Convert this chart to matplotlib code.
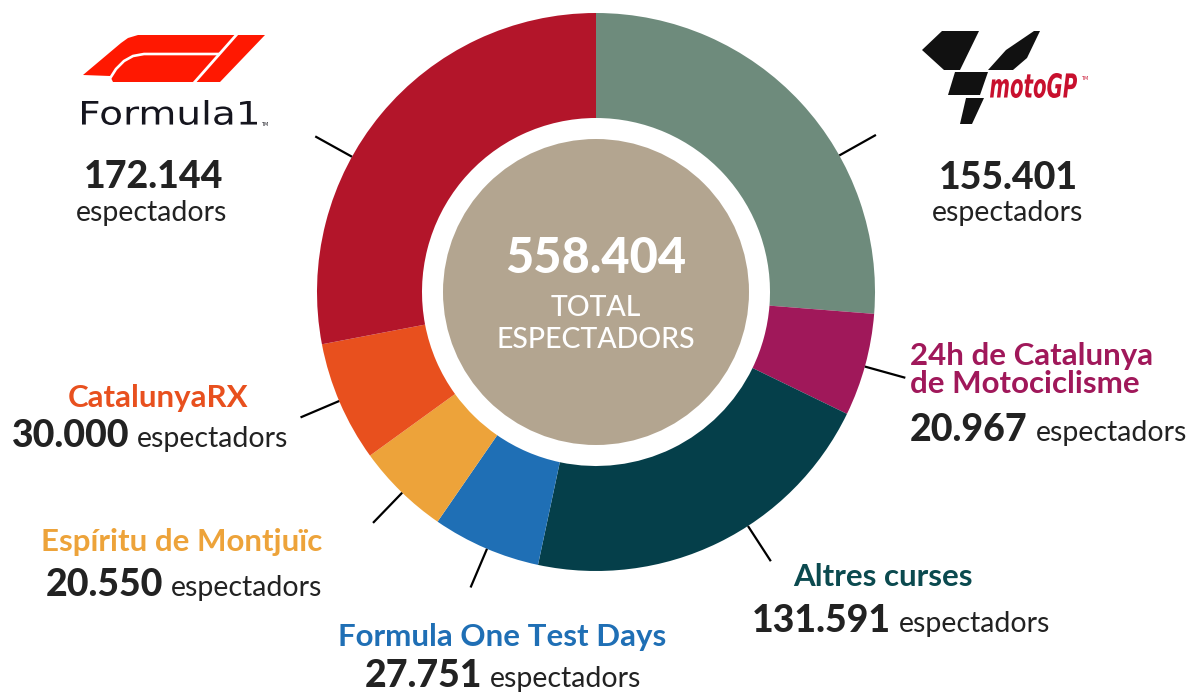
import matplotlib
matplotlib.use("Agg")
import matplotlib.pyplot as plt
import numpy as np
from matplotlib.patches import Polygon, Circle, PathPatch
from matplotlib.textpath import TextPath
from matplotlib.font_manager import FontProperties
from matplotlib.transforms import Affine2D

# ---------------- data ----------------
categories = ["MotoGP", "24h de Catalunya de Motociclisme", "Altres curses",
              "Formula One Test Days", "Espíritu de Montjuïc", "CatalunyaRX",
              "Formula 1"]
spectators = [155401, 20967, 131591, 27751, 20550, 30000, 172144]
# angular size of each ring segment as drawn in the picture (degrees)
drawn_share = [94.5, 21.4, 76.1, 22.6, 19.5, 25.1, 100.8]
colors = ["#6e8b7c", "#a0185a", "#053f4a", "#1f6fb5", "#eda33a", "#e8501e", "#b3152a"]
title_colors = ["#222222", "#a0185a", "#0b4a4f", "#1f6fb5", "#eda33a", "#e8501e", "#222222"]
unit_label = "espectadors"
center_lines = ["TOTAL", "ESPECTADORS"]
total = sum(spectators)

def fmt(n):
    return f"{n:,}".replace(",", ".")

# ---------------- layout ----------------
W, H = 1189, 692
FONT = "Lato"
CX, CY = 596, 292            # pixel coords (y down)
R_OUT, R_IN, R_CORE = 279, 174, 153
leader_angles = [60.7, 105.5, 147, 203, 224, 247, 299]   # clockwise from top
LEAD_R0, LEAD_R1 = 279, 321

def Y(p):
    return H - p

fig = plt.figure(figsize=(W / 100, H / 100), dpi=100)
ax = fig.add_axes([0, 0, 1, 1])

ax.pie(drawn_share, radius=R_OUT, center=(CX, Y(CY)), startangle=90,
       counterclock=False, colors=colors,
       wedgeprops=dict(width=R_OUT - R_IN, linewidth=0, antialiased=True))
ax.set_xlim(0, W)
ax.set_ylim(0, H)
ax.set_aspect("equal")
ax.axis("off")

ax.add_patch(Circle((CX, Y(CY)), R_CORE, fc="#b3a590", ec="none", zorder=3))

# leader lines
for a in leader_angles:
    t = np.deg2rad(a)
    xs = [CX + LEAD_R0 * np.sin(t), CX + LEAD_R1 * np.sin(t)]
    ys = [Y(CY - LEAD_R0 * np.cos(t)), Y(CY - LEAD_R1 * np.cos(t))]
    ax.plot(xs, ys, color="black", lw=1.6, solid_capstyle="butt", zorder=4)

renderer = fig.canvas.get_renderer()

def width_of(t):
    return t.get_window_extent(renderer).width

NUM_FS, ESP_FS, TITLE_FS = 27, 20.5, 22.5
NUM_W = 900

def number_line(value, x, base, align="center", gap=8):
    t1 = ax.text(0, Y(base), fmt(value), fontsize=NUM_FS, fontweight=NUM_W,
                 family=FONT, color="#222222", va="baseline", ha="left")
    t2 = ax.text(0, Y(base), unit_label, fontsize=ESP_FS, family=FONT,
                 color="#222222", va="baseline", ha="left")
    w1, w2 = width_of(t1), width_of(t2)
    x0 = x - (w1 + gap + w2) / 2 if align == "center" else x
    t1.set_x(x0)
    t2.set_x(x0 + w1 + gap)

# centre text
ax.text(CX, Y(273), fmt(total), fontsize=35, fontweight=NUM_W, family=FONT,
        color="white", ha="center", va="baseline", zorder=5)
ax.text(CX, Y(316), center_lines[0], fontsize=20.5, fontweight=500, family=FONT,
        color="white", ha="center", va="baseline", zorder=5)
ax.text(CX, Y(348), center_lines[1], fontsize=20.5, fontweight=500, family=FONT,
        color="white", ha="center", va="baseline", zorder=5)

# ---- MotoGP (index 0) ----
ax.text(1008, Y(189), fmt(spectators[0]), fontsize=NUM_FS, fontweight=NUM_W,
        family=FONT, color="#222222", ha="center", va="baseline")
ax.text(1008, Y(221), unit_label, fontsize=ESP_FS, family=FONT,
        color="#222222", ha="center", va="baseline")

# ---- Formula 1 (index 6) ----
ax.text(154, Y(188), fmt(spectators[6]), fontsize=NUM_FS, fontweight=NUM_W,
        family=FONT, color="#222222", ha="center", va="baseline")
ax.text(152, Y(221), unit_label, fontsize=ESP_FS, family=FONT,
        color="#222222", ha="center", va="baseline")

# ---- 24h (index 1), left aligned ----
ax.text(910, Y(365), "24h de Catalunya", fontsize=TITLE_FS, fontweight="bold",
        family=FONT, color=title_colors[1], ha="left", va="baseline")
ax.text(910, Y(393), "de Motociclisme", fontsize=TITLE_FS, fontweight="bold",
        family=FONT, color=title_colors[1], ha="left", va="baseline")
number_line(spectators[1], 910, 441, align="left")

# ---- Altres curses (index 2) ----
ax.text(883, Y(586), categories[2], fontsize=TITLE_FS, fontweight="bold",
        family=FONT, color=title_colors[2], ha="center", va="baseline")
number_line(spectators[2], 901, 632)

# ---- Formula One Test Days (index 3) ----
ax.text(502, Y(646), categories[3], fontsize=TITLE_FS, fontweight="bold",
        family=FONT, color=title_colors[3], ha="center", va="baseline")
number_line(spectators[3], 503, 687)

# ---- Espíritu de Montjuïc (index 4) ----
ax.text(182, Y(551), categories[4], fontsize=TITLE_FS, fontweight="bold",
        family=FONT, color=title_colors[4], ha="center", va="baseline")
number_line(spectators[4], 184, 596)

# ---- CatalunyaRX (index 5) ----
ax.text(158, Y(407), categories[5], fontsize=TITLE_FS, fontweight="bold",
        family=FONT, color=title_colors[5], ha="center", va="baseline")
number_line(spectators[5], 150, 447)

# ---------------- logos ----------------
def fit_text(s, x0, x1, ptop, pbot, prop, color):
    tp = TextPath((0, 0), s, size=100, prop=prop)
    bb = tp.get_extents()
    sx = (x1 - x0) / bb.width
    sy = (pbot - ptop) / bb.height
    tr = Affine2D().translate(-bb.x0, -bb.y0).scale(sx, sy).translate(x0, Y(pbot))
    ax.add_patch(PathPatch(tr.transform_path(tp), fc=color, ec="none", lw=0, zorder=6))

def poly(pts, color, z=5):
    ax.add_patch(Polygon([(x, Y(y)) for x, y in pts], closed=True, fc=color,
                         ec="none", zorder=z))

# F1 logo
poly([(83, 75), (121, 43), (128, 38), (138, 35), (265, 35), (220, 82),
      (113, 82), (110, 76)], "#ff1801")
ax.plot([109, 116, 124, 133, 144, 220], [Y(80), Y(69), Y(61), Y(56), Y(54), Y(54)],
        color="white", lw=1.9, zorder=6, solid_capstyle="butt")
ax.plot([238, 193], [Y(33), Y(84)], color="white", lw=2.0, zorder=6)
fit_text("Formula1", 82, 257, 100, 125, FontProperties(family="DejaVu Sans"), "#15151e")
ax.text(261, Y(126), "TM", fontsize=3.5, family="DejaVu Sans", color="#15151e",
        ha="left", va="baseline")

# MotoGP logo
poly([(922, 50), (942, 31), (979, 31), (960, 70), (944, 70)], "#111111")
poly([(988, 70), (1006, 50), (1034, 31), (1040, 31), (1027, 58), (1013, 70)], "#111111")
poly([(955, 72), (988, 72), (980, 95), (948, 95)], "#111111")
poly([(966, 98), (984, 98), (972, 124), (960, 124)], "#111111")
fit_text("motoGP", 990, 1077, 73, 98,
         FontProperties(family="DejaVu Sans", weight="bold", style="oblique"), "#c8102e")
ax.text(1081, Y(80), "TM", fontsize=3.5, family="DejaVu Sans", color="#c8102e",
        ha="left", va="baseline")

fig.savefig("out.png", dpi=100)
